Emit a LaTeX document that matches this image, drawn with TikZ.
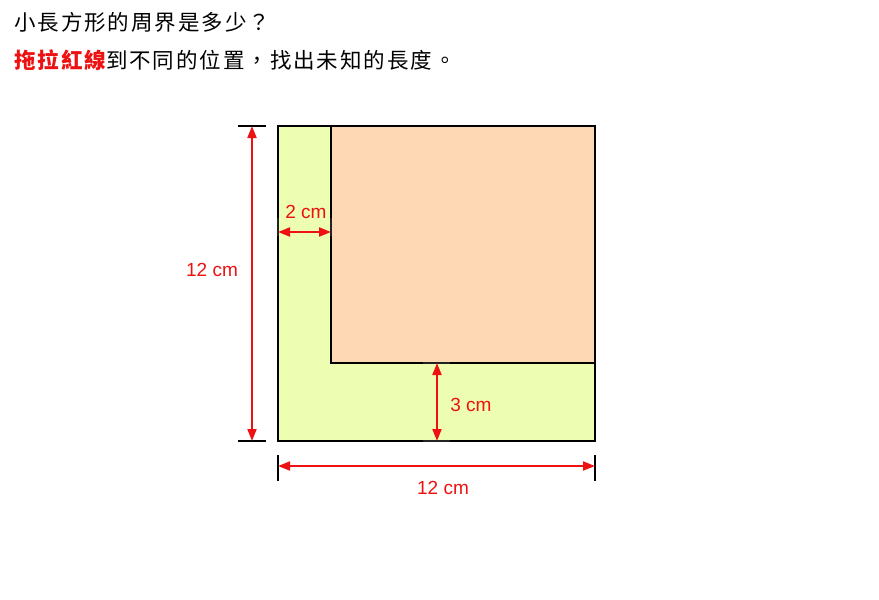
\documentclass[tikz,border=0pt]{standalone}
\usepackage{fontspec}
\setmainfont{Liberation Sans}
\newfontfamily\cjk[LetterSpace=9]{Noto Sans CJK TC}
\usetikzlibrary{arrows.meta}
\definecolor{dimred}{HTML}{EE1111}
\definecolor{greenfill}{HTML}{EDFDB1}
\definecolor{orangefill}{HTML}{FED8B4}
\definecolor{handlegray}{HTML}{222222}
\tikzset{
  dimline/.style={draw=dimred, line width=1.8pt, {Triangle[length=12pt,width=9pt]}-{Triangle[length=12pt,width=9pt]}},
  tick/.style={draw=black, line width=1.5pt},
  grip/.style={draw=handlegray, line width=2.2pt},
  dimlabel/.style={text=dimred, font=\fontsize{19}{22}\selectfont, inner sep=0pt},
  titletext/.style={anchor=west, inner sep=0pt, font=\cjk\fontsize{21.5}{24}\selectfont}
}
\begin{document}
\begin{tikzpicture}[x=1pt,y=-1pt]
\useasboundingbox (0,0) rectangle (879,600);
% title
\node[titletext] (t1) at (14,22) {小長方形的周界是多少？};
\node[titletext] (t2) at (14,60) {\textcolor{dimred}{\bfseries 拖拉紅線}到不同的位置，找出未知的長度。};
% shapes
\coordinate (A) at (278,126);
\coordinate (B) at (595,441);
\coordinate (C) at (331,126);
\coordinate (D) at (595,363);
\filldraw[fill=greenfill, draw=black, line width=1.5pt] (A) rectangle (B);
\filldraw[fill=orangefill, draw=black, line width=1.5pt] (C) rectangle (D);
% grips
\coordinate (g1a) at (278,218); \coordinate (g1b) at (278,236);
\coordinate (g2a) at (331,218); \coordinate (g2b) at (331,236);
\coordinate (g3a) at (423,363); \coordinate (g3b) at (450,363);
\coordinate (g4a) at (423,441); \coordinate (g4b) at (450,441);
\draw[grip] (g1a) -- (g1b);
\draw[grip] (g2a) -- (g2b);
\draw[grip] (g3a) -- (g3b);
\draw[grip] (g4a) -- (g4b);
% ticks
\coordinate (v1) at (252,126);
\coordinate (v2) at (252,441);
\coordinate (vt1a) at (238,126); \coordinate (vt1b) at (266,126);
\coordinate (vt2a) at (238,441); \coordinate (vt2b) at (266,441);
\draw[tick] (vt1a) -- (vt1b);
\draw[tick] (vt2a) -- (vt2b);
\coordinate (h1) at (278,466);
\coordinate (h2) at (595,466);
\coordinate (ht1a) at (278,455); \coordinate (ht1b) at (278,481);
\coordinate (ht2a) at (595,455); \coordinate (ht2b) at (595,481);
\draw[tick] (ht1a) -- (ht1b);
\draw[tick] (ht2a) -- (ht2b);
% dimension lines
\draw[dimline] (v1) -- (v2);
\draw[dimline] (h1) -- (h2);
\coordinate (w1) at (278,232);
\coordinate (w2) at (331,232);
\draw[dimline] (w1) -- (w2);
\coordinate (u1) at (437,363);
\coordinate (u2) at (437,441);
\draw[dimline] (u1) -- (u2);
% labels
\node[dimlabel] (l2) at (306,212) {2 cm};
\node[dimlabel] (l3) at (471,405) {3 cm};
\node[dimlabel] (l12v) at (212,270) {12 cm};
\node[dimlabel] (l12h) at (443,488) {12 cm};
\end{tikzpicture}
\end{document}
